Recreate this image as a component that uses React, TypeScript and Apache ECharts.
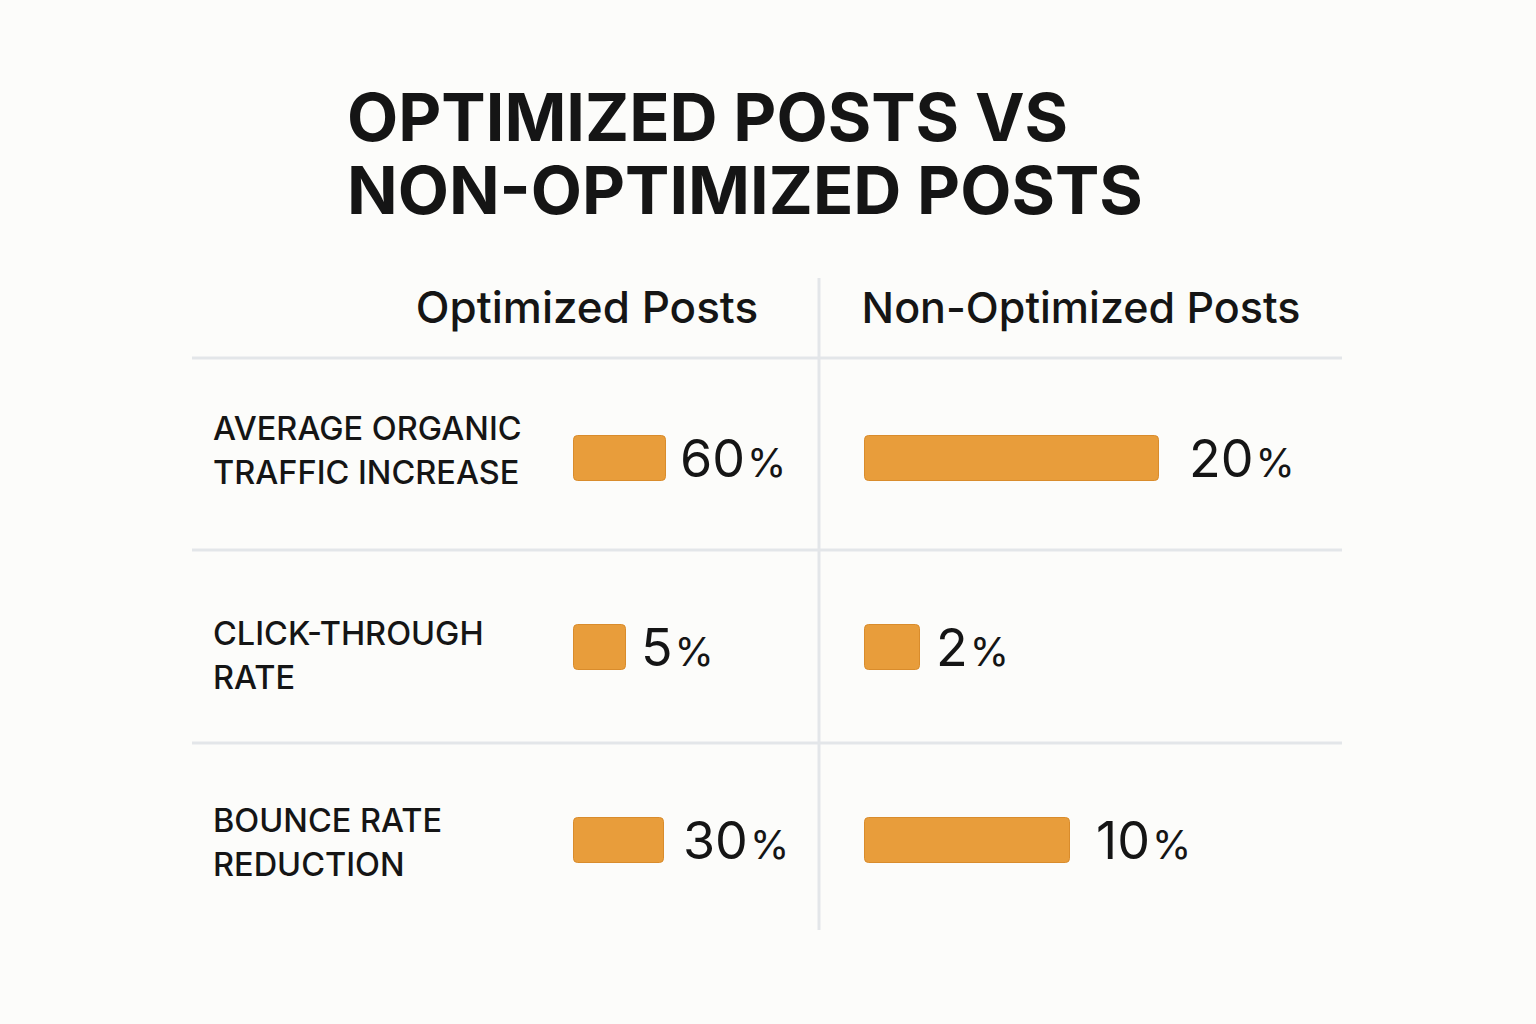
import React, { useEffect, useRef } from "react";
import * as echarts from "echarts";

// Metrics (one row each) and the two post groups
const categories = [
  "AVERAGE ORGANIC\nTRAFFIC INCREASE",
  "CLICK-THROUGH\nRATE",
  "BOUNCE RATE\nREDUCTION",
];
const groups = ["Optimized Posts", "Non-Optimized Posts"];
const optimizedValues = [60, 5, 30];
const nonOptimizedValues = [20, 2, 10];

// Layout: each cell has its own small grid, bar drawn across its full span
const panelBarLeft = [573, 864];
const panelHeaderX = [587, 1081];
const rowCenterY = [458, 647, 840];
const rowLabelY = [450, 655, 842];
const cellSpan = [
  [93, 53, 91],
  [295, 56, 206],
];
const labelGap = [
  [14, 15, 19],
  [30, 16, 26],
];

const FONT = "Inter, 'Noto Sans', sans-serif";
const BAR = "#e89d3b";
const RULE = "#e3e6e9";

export default function App() {
  const ref = useRef<HTMLDivElement>(null);

  useEffect(() => {
    if (!ref.current) return;
    const chart = echarts.init(ref.current, undefined, { renderer: "svg" });

    const grids: any[] = [];
    const xAxes: any[] = [];
    const yAxes: any[] = [];
    const series: any[] = [];
    const values = [optimizedValues, nonOptimizedValues];

    values.forEach((vals, p) => {
      vals.forEach((v, r) => {
        const idx = grids.length;
        grids.push({
          left: panelBarLeft[p],
          top: rowCenterY[r] - 23,
          width: cellSpan[p][r],
          height: 46,
          containLabel: false,
        });
        xAxes.push({ gridIndex: idx, type: "value", min: 0, max: v, show: false });
        yAxes.push({
          gridIndex: idx,
          type: "category",
          data: [categories[r]],
          show: false,
        });
        series.push({
          type: "bar",
          name: groups[p],
          xAxisIndex: idx,
          yAxisIndex: idx,
          data: [v],
          barWidth: 46,
          itemStyle: {
            color: BAR,
            borderColor: "#d98c2c",
            borderWidth: 1,
            borderRadius: 4,
          },
          label: {
            show: true,
            position: "right",
            distance: labelGap[p][r],
            formatter: (d: any) => `{v|${d.value}}{p|%}`,
            rich: {
              v: {
                fontFamily: FONT,
                fontSize: 52,
                fontWeight: 400,
                color: "#151515",
                lineHeight: 52,
                verticalAlign: "bottom",
              },
              p: {
                fontFamily: FONT,
                fontSize: 40,
                fontWeight: 400,
                color: "#151515",
                lineHeight: 42,
                verticalAlign: "bottom",
                padding: [0, 0, 2, 2],
              },
            },
          },
        });
      });
    });

    const graphic: any[] = [];
    // horizontal rules
    [358, 550, 743].forEach((y) =>
      graphic.push({
        type: "line",
        shape: { x1: 192, y1: y, x2: 1342, y2: y },
        style: { stroke: RULE, lineWidth: 3 },
        silent: true,
      })
    );
    // column divider
    graphic.push({
      type: "line",
      shape: { x1: 819, y1: 278, x2: 819, y2: 930 },
      style: { stroke: RULE, lineWidth: 3 },
      silent: true,
    });
    // column headers
    groups.forEach((g, p) =>
      graphic.push({
        type: "text",
        x: panelHeaderX[p],
        y: 307,
        style: {
          text: g,
          fill: "#151515",
          font: `500 ${p === 0 ? 44 : 43}px ${FONT}`,
          textAlign: "center",
          textVerticalAlign: "middle",
        },
      })
    );
    // row labels
    categories.forEach((c, r) =>
      graphic.push({
        type: "text",
        x: 213,
        y: rowLabelY[r],
        style: {
          text: c,
          fill: "#151515",
          font: `500 32.5px ${FONT}`,
          lineHeight: 44,
          textAlign: "left",
          textVerticalAlign: "middle",
        },
      })
    );

    chart.setOption({
      animation: false,
      backgroundColor: "#fcfcfa",
      title: {
        text: "OPTIMIZED POSTS VS\nNON-OPTIMIZED POSTS",
        left: 342,
        top: 75,
        textStyle: {
          fontFamily: FONT,
          fontSize: 66.5,
          fontWeight: 700,
          lineHeight: 73,
          color: "#151515",
        },
      },
      grid: grids,
      xAxis: xAxes,
      yAxis: yAxes,
      series,
      graphic,
    });

    return () => chart.dispose();
  }, []);

  return (
    <div
      ref={ref}
      style={{ position: "fixed", left: 0, top: 0, width: 1536, height: 1024 }}
    />
  );
}
